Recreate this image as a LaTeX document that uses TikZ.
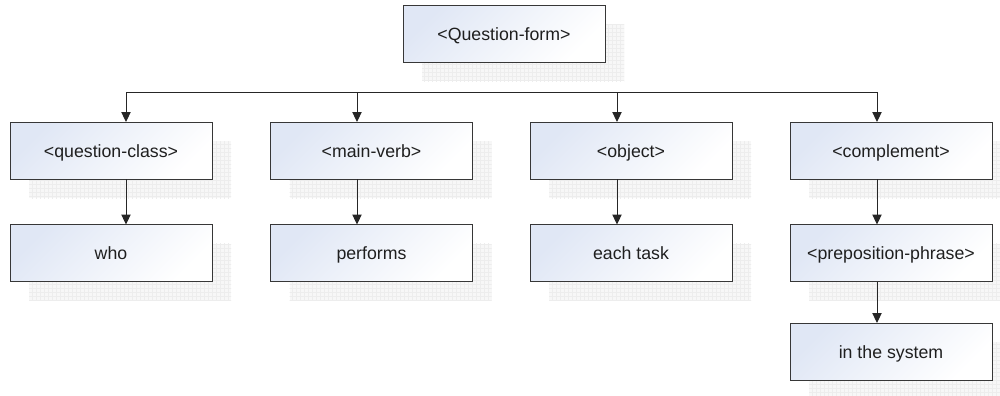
\documentclass[tikz,border=0pt]{standalone}
\usepackage{fontspec}
\setmainfont{Liberation Sans}
\usetikzlibrary{arrows.meta,patterns,backgrounds,calc}
\definecolor{boxtint}{RGB}{224,231,245}
\definecolor{edge}{RGB}{55,55,55}
\begin{document}
\begin{tikzpicture}[x=0.75pt,y=-0.75pt,
  term/.style={draw=edge, line width=0.75pt, minimum width=151.5pt,
    minimum height=42.75pt, inner sep=0pt, outer sep=0pt,
    top color=boxtint, bottom color=white, shading angle=45,
    text height=9.8pt, text depth=0pt,
    font=\fontsize{13.3}{16}\selectfont, text=black!88},
  link/.style={line width=0.75pt, draw=black!85,
    -{Triangle[length=7.5pt,width=7pt]}},
  bus/.style={line width=0.75pt, draw=black!85},
  shadegrid/.style={fill=black!3, postaction={pattern=grid, pattern color=black!7}}]
\useasboundingbox (0,0) rectangle (1000,396);

% grammar tree
\node[term] (top) at (504,33.5)  {<Question-form>};
\node[term] (qc)  at (111,150.5) {<question-class>};
\node[term] (mv)  at (371.5,150.5) {<main-verb>};
\node[term] (ob)  at (631,150.5) {<object>};
\node[term] (cp)  at (891,150.5) {<complement>};
\node[term] (who) at (111,253)   {who};
\node[term] (pf)  at (371.5,253) {performs};
\node[term] (et)  at (631,253)   {each task};
\node[term] (pp)  at (891,253)   {<preposition-phrase>};
\node[term] (its) at (891,351.5) {in the system};

% distribution bus
\coordinate (b1) at (126,92);
\coordinate (b2) at (357,92);
\coordinate (b3) at (617,92);
\coordinate (b4) at (877,92);
\draw[bus] (b1) -- (b4);
\draw[link] (b1) -- (b1 |- qc.north);
\draw[link] (b2) -- (b2 |- mv.north);
\draw[link] (b3) -- (b3 |- ob.north);
\draw[link] (b4) -- (b4 |- cp.north);

% child links
\draw[link] (b1 |- qc.south) -- (b1 |- who.north);
\draw[link] (b2 |- mv.south) -- (b2 |- pf.north);
\draw[link] (b3 |- ob.south) -- (b3 |- et.north);
\draw[link] (b4 |- cp.south) -- (b4 |- pp.north);
\draw[link] (b4 |- pp.south) -- (b4 |- its.north);

% gridded drop shadows
\begin{pgfonlayer}{background}
  \fill[white] (0,0) rectangle (1000,396);
  \foreach \n in {top,qc,mv,ob,cp,who,pf,et,pp,its}
    \fill[shadegrid] ($(\n.south west)+(19,19)$) rectangle ($(\n.north east)+(19,19)$);
\end{pgfonlayer}
\end{tikzpicture}
\end{document}
